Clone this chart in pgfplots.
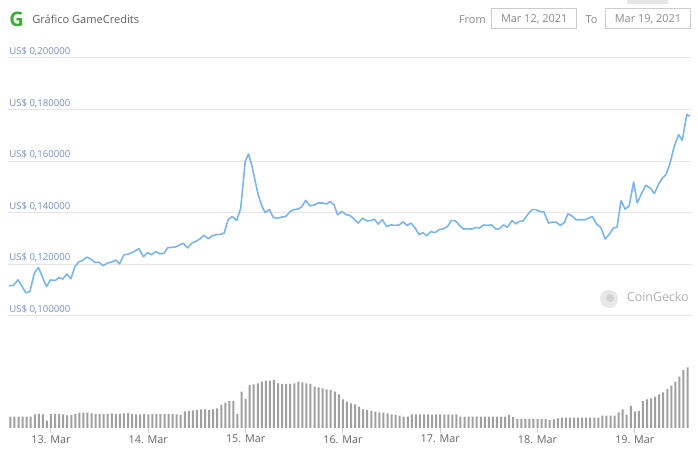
\documentclass[border=0pt]{standalone}
\usepackage{pgfplots}
\pgfplotsset{compat=1.18}
\usepackage{pgfplotstable}
\usepackage{fontspec}
\setmainfont{Open Sans}
\definecolor{linec}{HTML}{7CB5EC}
\definecolor{gridc}{HTML}{E6E6E6}
\definecolor{ylab}{RGB}{115,145,195}
\definecolor{xlab}{HTML}{666666}
\definecolor{titlec}{HTML}{606060}
\definecolor{barc}{HTML}{A0A0A0}
\definecolor{gcgreen}{HTML}{3DAA3A}
\definecolor{boxc}{HTML}{CCCCCC}
\definecolor{datec}{HTML}{8A8A8A}
\definecolor{wmark}{HTML}{B0B0B0}

\pgfplotstableread{
h p
13.6 0.1118
14.7 0.1118
15.9 0.1140
17.8 0.1090
18.8 0.1094
19.9 0.1166
20.9 0.1188
22.9 0.1114
23.9 0.1140
25.0 0.1137
26.0 0.1149
26.9 0.1143
27.9 0.1163
28.9 0.1144
29.9 0.1191
30.9 0.1211
31.8 0.1215
32.8 0.1228
33.8 0.1221
34.9 0.1207
35.8 0.1209
36.9 0.1195
37.9 0.1205
39.0 0.1209
40.0 0.1217
40.9 0.1202
42.0 0.1237
43.1 0.1240
44.2 0.1247
45.7 0.1261
46.8 0.1230
47.9 0.1246
48.8 0.1237
49.8 0.1250
50.9 0.1241
51.9 0.1243
52.8 0.1265
53.7 0.1266
54.6 0.1267
55.6 0.1274
56.6 0.1282
57.7 0.1264
58.7 0.1282
59.9 0.1291
60.8 0.1299
61.7 0.1313
62.8 0.1299
63.8 0.1311
64.8 0.1315
65.9 0.1317
66.7 0.1321
67.7 0.1373
68.7 0.1386
69.8 0.1370
70.8 0.1418
71.9 0.1599
72.7 0.1628
73.5 0.1586
74.3 0.1528
75.1 0.1470
76.0 0.1427
76.8 0.1401
77.9 0.1412
78.8 0.1382
79.8 0.1379
80.9 0.1383
81.9 0.1386
83.0 0.1405
83.9 0.1412
85.0 0.1415
85.8 0.1422
86.8 0.1448
87.9 0.1427
88.9 0.1430
89.9 0.1438
90.9 0.1438
92.0 0.1434
92.8 0.1444
93.8 0.1431
94.7 0.1392
95.7 0.1405
96.8 0.1393
97.8 0.1389
98.8 0.1375
99.8 0.1360
100.8 0.1379
101.9 0.1369
102.9 0.1370
103.8 0.1375
104.7 0.1356
105.7 0.1373
106.8 0.1347
107.9 0.1353
108.9 0.1351
109.9 0.1353
110.8 0.1365
111.8 0.1351
112.8 0.1360
113.8 0.1341
114.8 0.1315
115.7 0.1323
116.7 0.1311
117.7 0.1327
118.7 0.1323
119.7 0.1334
120.8 0.1338
121.8 0.1347
122.7 0.1370
123.7 0.1369
124.7 0.1353
125.7 0.1337
126.7 0.1338
127.8 0.1337
128.8 0.1343
129.7 0.1341
130.7 0.1353
131.6 0.1351
132.7 0.1353
133.7 0.1337
134.6 0.1338
135.6 0.1353
136.6 0.1344
137.7 0.1370
138.6 0.1357
139.5 0.1366
140.5 0.1369
141.5 0.1392
142.6 0.1412
143.6 0.1412
144.6 0.1405
145.6 0.1403
146.7 0.1360
147.7 0.1364
148.6 0.1364
149.6 0.1351
150.6 0.1362
151.5 0.1396
152.5 0.1388
153.5 0.1373
154.5 0.1373
155.6 0.1373
156.6 0.1379
157.5 0.1386
158.6 0.1356
159.6 0.1343
160.7 0.1298
161.7 0.1317
162.7 0.1341
163.6 0.1344
164.6 0.1447
165.6 0.1414
166.6 0.1427
167.7 0.1519
168.6 0.1438
169.7 0.1476
170.7 0.1506
171.8 0.1496
172.8 0.1474
173.8 0.1509
174.8 0.1535
175.7 0.1548
176.7 0.1593
177.7 0.1657
178.8 0.1703
179.7 0.1681
180.8 0.1781
181.6 0.1774
}\price

\pgfplotstableread{
h v
14 11.3
15 11.3
16 11.3
17 11.3
18 11.3
19 11.3
20 13.7
21 14.0
22 13.7
23 7.3
24 14.0
25 14.0
26 14.0
27 13.7
28 12.5
29 13.0
30 14.0
31 15.0
32 15.3
33 15.3
34 14.5
35 14.0
36 14.0
37 14.0
38 14.0
39 14.5
40 14.0
41 14.0
42 14.5
43 15.0
44 14.0
45 13.7
46 13.7
47 14.0
48 13.7
49 14.0
50 14.0
51 14.0
52 14.0
53 14.0
54 14.0
55 13.7
56 13.0
57 16.5
58 17.0
59 17.5
60 18.0
61 18.7
62 18.7
63 18.0
64 18.7
65 19.7
66 23.0
67 25.3
68 27.0
69 27.0
70 14.0
71 36.3
72 29.0
73 43.0
74 43.7
75 44.7
76 46.3
77 47.0
78 47.3
79 48.0
80 44.7
81 44.0
82 44.0
83 44.0
84 44.7
85 46.3
86 45.7
87 44.7
88 44.0
89 41.3
90 40.5
91 39.7
92 38.7
93 38.0
94 36.3
95 33.5
96 28.7
97 26.3
98 24.7
99 23.7
100 21.3
101 18.7
102 18.0
103 17.0
104 16.3
105 15.7
106 15.3
107 14.7
108 13.7
109 13.0
110 12.3
111 11.3
112 11.3
113 13.7
114 13.7
115 13.7
116 13.7
117 13.7
118 13.3
119 13.7
120 13.7
121 13.3
122 13.7
123 13.3
124 13.7
125 11.3
126 11.3
127 11.3
128 11.3
129 11.3
130 11.3
131 11.3
132 11.3
133 11.3
134 11.3
135 11.3
136 11.3
137 13.0
138 11.0
139 9.0
140 9.0
141 9.0
142 9.0
143 9.0
144 9.0
145 9.0
146 9.0
147 8.0
148 8.5
149 9.7
150 10.3
151 10.3
152 10.3
153 10.3
154 10.3
155 10.3
156 10.3
157 10.3
158 10.3
159 10.3
160 12.3
161 12.3
162 12.3
163 12.3
164 15.7
165 18.7
166 13.0
167 22.0
168 16.3
169 17.0
170 27.0
171 28.7
172 29.7
173 31.3
174 33.7
175 35.7
176 39.0
177 42.3
178 46.3
179 51.3
180 58.0
181 60.7
}\volume

\begin{document}
\begin{tikzpicture}
\path[use as bounding box] (0,0) rectangle (523.5pt,339pt);

% header
\node[text=gcgreen, font=\fontsize{15pt}{15pt}\selectfont\bfseries, inner sep=0pt] at (12.4pt,324.6pt) {G};
\node[anchor=west, text=titlec, font=\fontsize{8.3pt}{10pt}\selectfont, inner sep=0pt] at (24pt,324.4pt) {Gráfico GameCredits};
\fill[gridc] (470.25pt,339pt) rectangle (501pt,335.8pt);
\node[anchor=east, text=datec, font=\fontsize{8.2pt}{10pt}\selectfont, inner sep=0pt] at (364.5pt,324.6pt) {From};
\draw[boxc, line width=0.75pt] (368.6pt,332.6pt) rectangle (432.6pt,317.6pt);
\node[text=datec, font=\fontsize{8.2pt}{10pt}\selectfont, inner sep=0pt] at (400.6pt,324.6pt) {Mar 12, 2021};
\node[anchor=east, text=datec, font=\fontsize{8.2pt}{10pt}\selectfont, inner sep=0pt] at (448.3pt,324.6pt) {To};
\draw[boxc, line width=0.75pt] (454.3pt,332.6pt) rectangle (517.5pt,317.6pt);
\node[text=datec, font=\fontsize{8.2pt}{10pt}\selectfont, inner sep=0pt] at (486pt,324.6pt) {Mar 19, 2021};

% watermark
\fill[gray!18] (456.75pt,114.75pt) circle (6.8pt);
\fill[gray!35] (457.5pt,115.5pt) circle (3pt);
\node[anchor=west, text=wmark, font=\fontsize{9.3pt}{11pt}\selectfont, inner sep=0pt] at (470pt,116pt) {CoinGecko};

% price axis
\begin{axis}[
  at={(6pt,102pt)}, anchor=south west,
  width=513pt, height=193.5pt, scale only axis,
  xmin=13.4, xmax=182.1, ymin=0.1, ymax=0.2,
  axis line style={draw=none},
  xtick=\empty,
  ytick={0.1,0.12,0.14,0.16,0.18,0.2},
  yticklabels={{US\$ 0,100000},{US\$ 0,120000},{US\$ 0,140000},{US\$ 0,160000},{US\$ 0,180000},{US\$ 0,200000}},
  ymajorgrids, grid style={gridc, line width=0.75pt},
  major tick length=0pt,
  yticklabel style={anchor=south west, text=ylab, inner sep=0pt, xshift=0.75pt, yshift=1.5pt, font=\fontsize{7.2pt}{8.5pt}\selectfont},
  clip=false,
]
\addplot[linec, line width=1.2pt, line join=round] table[x=h, y=p] {\price};
\end{axis}

% volume axis
\begin{axis}[
  at={(6pt,18pt)}, anchor=south west,
  width=513pt, height=51pt, scale only axis,
  xmin=13.4, xmax=182.1, ymin=0, ymax=68,
  axis line style={draw=none},
  ytick=\empty,
  xtick={24,48,72,96,120,144,168},
  xticklabels={13. Mar,14. Mar,15. Mar,16. Mar,17. Mar,18. Mar,19. Mar},
  xtick pos=bottom, tick align=outside, major tick length=3.75pt,
  tick style={draw=gray!35, line width=0.75pt},
  xticklabel style={text=xlab, inner sep=0pt, yshift=-1.5pt, font=\fontsize{8.1pt}{10pt}\selectfont},
  clip=false,
]
\addplot[ybar, bar width=1.5pt, fill=barc, draw=none] table[x=h, y=v] {\volume};
\end{axis}
\end{tikzpicture}
\end{document}
